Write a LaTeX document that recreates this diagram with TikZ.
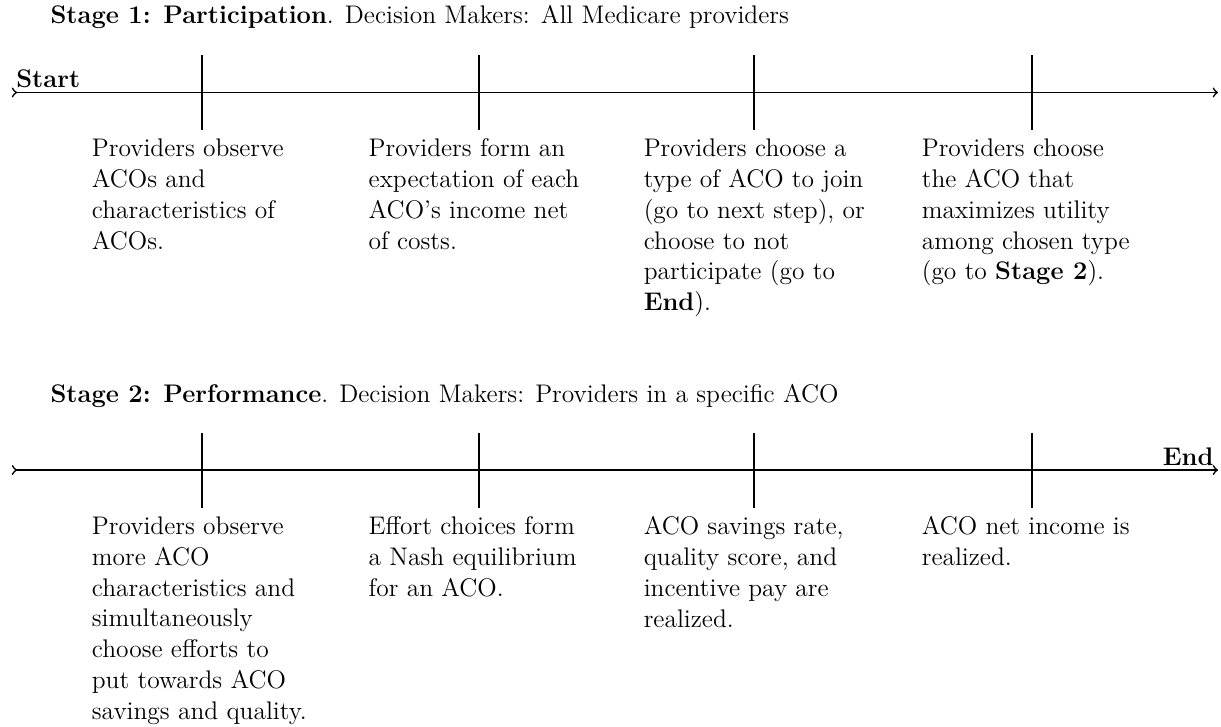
\documentclass[tikz,border=0pt,12pt]{standalone}
\begin{document}
\begin{tikzpicture}[font=\fontsize{12.3}{14.9}\selectfont,
  event/.style={text width=3.86cm,align=flush left,anchor=north,inner sep=4pt,xshift=0.06cm}]
\useasboundingbox (0,0) rectangle (20.73,-12.34);
% stage 1
\node[anchor=base west] (title1) at (0.71,-0.40) {\textbf{Stage 1: Participation}. Decision Makers: All Medicare providers};
\coordinate (s1start) at (0.2,-1.57);
\coordinate (s1end) at (20.68,-1.57);
\draw[thick,>->] (s1start) -- (s1end);
\node[above right,inner sep=2pt] (start) at (s1start) {\textbf{Start}};
\foreach \i/\x in {1/3.43,2/8.13,3/12.80,4/17.52} {
  \coordinate (a\i-top) at (\x,-0.935);
  \coordinate (a\i-bot) at (\x,-2.21);
  \draw[thick] (a\i-top) -- (a\i-bot);
}
\node[event] (a1) at (a1-bot) {Providers observe\\ ACOs and\\ characteristics of\\ ACOs.};
\node[event] (a2) at (a2-bot) {Providers form an\\ expectation of each\\ ACO's income net\\ of costs.};
\node[event] (a3) at (a3-bot) {Providers choose a\\ type of ACO to join\\ (go to next step), or\\ choose to not\\ participate (go to\\ \textbf{End}).};
\node[event] (a4) at (a4-bot) {Providers choose\\ the ACO that\\ maximizes utility\\ among chosen type\\ (go to \textbf{Stage 2}).};
% stage 2
\node[anchor=base west] (title2) at (0.71,-6.84) {\textbf{Stage 2: Performance}. Decision Makers: Providers in a specific ACO};
\coordinate (s2start) at (0.2,-7.98);
\coordinate (s2end) at (20.68,-7.98);
\draw[thick,>->] (s2start) -- (s2end);
\node[above left,inner sep=2pt] (end) at (s2end) {\textbf{End}};
\foreach \i/\x in {1/3.43,2/8.13,3/12.80,4/17.52} {
  \coordinate (b\i-top) at (\x,-7.35);
  \coordinate (b\i-bot) at (\x,-8.625);
  \draw[thick] (b\i-top) -- (b\i-bot);
}
\node[event] (b1) at (b1-bot) {Providers observe\\ more ACO\\ characteristics and\\ simultaneously\\ choose efforts to\\ put towards ACO\\ savings and quality.};
\node[event] (b2) at (b2-bot) {Effort choices form\\ a Nash equilibrium\\ for an ACO.};
\node[event] (b3) at (b3-bot) {ACO savings rate,\\ quality score, and\\ incentive pay are\\ realized.};
\node[event] (b4) at (b4-bot) {ACO net income is\\ realized.};
\end{tikzpicture}
\end{document}
